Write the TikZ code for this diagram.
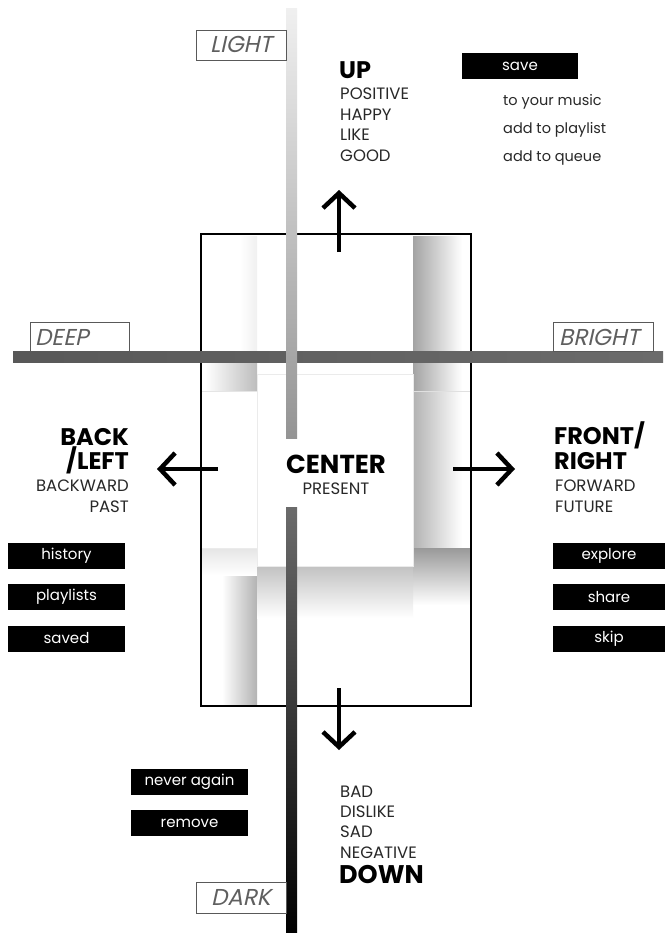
\documentclass[tikz,border=0pt]{standalone}
\usepackage{fontspec}
\setmainfont{Poppins}
\newfontfamily\tagfont[FakeSlant=0.22]{Poppins}
\usetikzlibrary{arrows.meta, positioning}
\definecolor{TagGray}{RGB}{95, 95, 95}
\definecolor{BarGray}{RGB}{88, 88, 88}
\definecolor{WordGray}{RGB}{40, 40, 40}
\tikzset{
    btn/.style={rectangle, fill=black, text=white, minimum height=26pt, inner sep=0pt, font=\fontsize{15}{15}\selectfont},
    tagbox/.style={rectangle, draw=black!65, fill=white, line width=0.9pt, inner sep=0pt},
    tagword/.style={anchor=base west, inner sep=0pt, text=TagGray, font=\tagfont\fontsize{23}{23}\selectfont},
    head/.style={inner sep=0pt, font=\fontsize{24}{24}\bfseries\selectfont},
    word/.style={inner sep=0pt, text=WordGray, font=\fontsize{16.5}{16.5}\selectfont},
    note/.style={anchor=base west, inner sep=0pt, text=WordGray, font=\fontsize{14.5}{14.5}\selectfont},
    dirarrow/.style={-{Straight Barb[length=15pt, width=32pt, line width=4.5pt]}, line width=3.4pt}
}
\begin{document}
\begin{tikzpicture}[x=1pt, y=-1pt]
\useasboundingbox[fill=white] (0,0) rectangle (665,933);

% shadows inside the frame
\shade[left color=white, right color=black!6] (240,236) rectangle (257,351);
\shade[left color=white, right color=black!26] (205,362) rectangle (257,391);
\draw[black!10, line width=0.6pt] (201,391) -- (257,391);
\shade[left color=white, right color=black!30] (222,560) rectangle (257,705);
\shade[top color=black!10, bottom color=white] (201,548) rectangle (257,575);
\shade[left color=black!36, right color=white] (413,236) rectangle (462,390);
\shade[left color=black!30, right color=white] (413,392) rectangle (462,548);
\draw[black!12, line width=0.6pt] (413,391) -- (471,391);
\shade[top color=black!40, bottom color=white] (413,548) rectangle (470,605);
\shade[top color=black!24, bottom color=white] (257,566) rectangle (413,618);
\draw[black!8, line width=0.6pt] (201,548) -- (257,548);

% center square
\node[rectangle, draw=black!8, fill=white, minimum width=156pt, minimum height=192pt, inner sep=0pt] (square) at (335,470) {};

% frame
\node[rectangle, draw=black, line width=1.2pt, minimum width=270pt, minimum height=472pt, inner sep=0pt] (frame) at (336,470) {};

% horizontal bar
\shade[left color=BarGray, right color=black!58] (13,351) rectangle (663,362);

% vertical bar
\shade[top color=black!6, bottom color=black!42] (286,9) rectangle (297,438);
\shade[top color=black!58, bottom color=black] (286,507) rectangle (297,933);

% tag boxes
\node[tagbox, minimum width=90pt, minimum height=30pt] (lightbox) at (241,45.5) {};
\node[tagword] (light) at (210,53) {LIGHT};
\node[tagbox, minimum width=99pt, minimum height=29pt] (deepbox) at (79.5,336.5) {};
\node[tagword] (deep) at (35,345) {DEEP};
\node[tagbox, minimum width=100pt, minimum height=29pt] (brightbox) at (603,336.5) {};
\node[tagword] (bright) at (559,345) {BRIGHT};
\node[tagbox, minimum width=90pt, minimum height=31pt] (darkbox) at (241,897.5) {};
\node[tagword] (dark) at (211,905) {DARK};

% arrows
\coordinate (upS) at (339,252);
\coordinate (upT) at (339,190);
\coordinate (leftS) at (218,469);
\coordinate (leftT) at (157,469);
\coordinate (rightS) at (453,469);
\coordinate (rightT) at (515,469);
\coordinate (downS) at (339,688);
\coordinate (downT) at (339,750);
\draw[dirarrow] (upS) -- (upT);
\draw[dirarrow] (leftS) -- (leftT);
\draw[dirarrow] (rightS) -- (rightT);
\draw[dirarrow] (downS) -- (downT);

% up
\node[head, anchor=base west] (up) at (339,78.5) {UP};
\node[word, anchor=base west] (positive) at (340,100) {POSITIVE};
\node[word, anchor=base west] (happy) at (340,120.5) {HAPPY};
\node[word, anchor=base west] (like) at (340,141) {LIKE};
\node[word, anchor=base west] (good) at (340,161.5) {GOOD};

\node[btn, minimum width=116pt] (save) at (520,66) {save};
\node[note] (music) at (503,106) {to your music};
\node[note] (playlist) at (503,134) {add to playlist};
\node[note] (queue) at (503,162) {add to queue};

% back / left
\node[head, anchor=base east] (back) at (129,445) {BACK};
\node[head, anchor=base east] (left) at (129,469) {/LEFT};
\node[word, anchor=base east] (backward) at (129,491) {BACKWARD};
\node[word, anchor=base east] (past) at (129,512) {PAST};

\node[btn, minimum width=117pt] (history) at (66.5,556) {history};
\node[btn, minimum width=117pt] (playlists) at (66.5,597) {playlists};
\node[btn, minimum width=117pt] (saved) at (66.5,638.5) {saved};

% front / right
\node[head, anchor=base west] (front) at (554,444) {FRONT/};
\node[head, anchor=base west] (right) at (554,469) {RIGHT};
\node[word, anchor=base west] (forward) at (555,491) {FORWARD};
\node[word, anchor=base west] (future) at (555,512) {FUTURE};

\node[btn, minimum width=112pt] (explore) at (609,556) {explore};
\node[btn, minimum width=112pt] (share) at (609,597) {share};
\node[btn, minimum width=112pt] (skip) at (609,638.5) {skip};

% center
\node[inner sep=0pt, anchor=base, font=\fontsize{26}{26}\bfseries\selectfont] (center) at (336,473) {CENTER};
\node[word, anchor=base] (present) at (336,494) {PRESENT};

% down
\node[btn, minimum width=117pt] (never) at (189.5,781.5) {never again};
\node[btn, minimum width=117pt] (remove) at (189.5,823) {remove};

\node[word, anchor=base west] (bad) at (340,797) {BAD};
\node[word, anchor=base west] (dislike) at (340,817) {DISLIKE};
\node[word, anchor=base west] (sad) at (340,837) {SAD};
\node[word, anchor=base west] (negative) at (340,858) {NEGATIVE};
\node[head, anchor=base west, font=\fontsize{25.5}{25.5}\bfseries\selectfont] (down) at (339,883) {DOWN};
\end{tikzpicture}
\end{document}
